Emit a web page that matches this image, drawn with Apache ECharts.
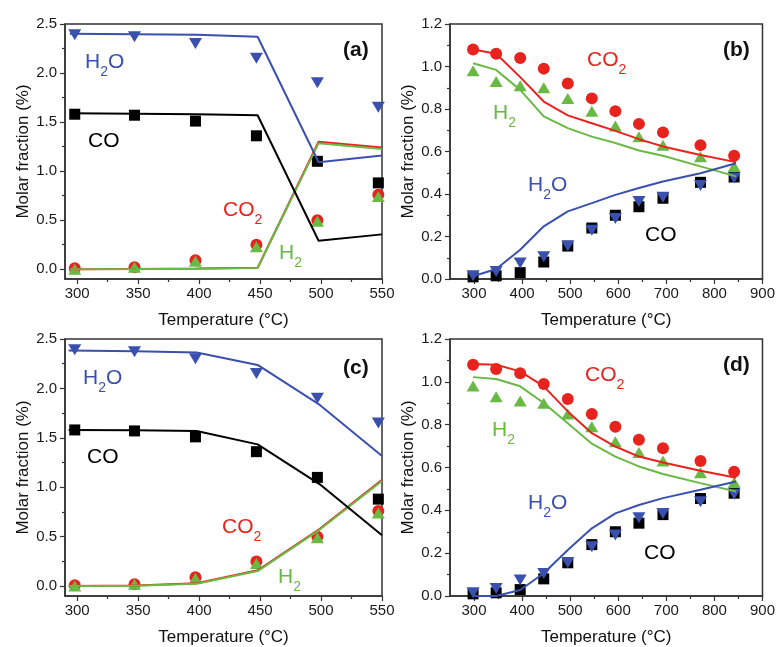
<!DOCTYPE html>
<html><head><meta charset="utf-8">
<script src="https://cdn.jsdelivr.net/npm/echarts@6/dist/echarts.min.js"></script>
<style>html,body{margin:0;padding:0;background:#fff}#c{width:778px;height:647px}</style>
</head><body><div id="c"></div>
<script>
// ---------- DATA ----------
// panels (a) and (c): experimental points
const xExpAC = [298, 347, 397, 447, 497, 547];
const expAC_H2O = [2.39, 2.37, 2.30, 2.15, 1.90, 1.65];
const expAC_CO  = [1.58, 1.57, 1.51, 1.36, 1.10, 0.88];
const expAC_CO2 = [0.01, 0.02, 0.09, 0.25, 0.50, 0.76];
const expAC_H2  = [0.00, 0.02, 0.08, 0.23, 0.49, 0.74];
// panel (a) model lines
const xModA = [294, 348, 398, 448, 498, 550];
const modA_H2O = [2.40, 2.395, 2.39, 2.37, 1.09, 1.16];
const modA_CO  = [1.59, 1.585, 1.58, 1.57, 0.29, 0.355];
const modA_CO2 = [0.00, 0.003, 0.007, 0.015, 1.30, 1.24];
const modA_H2  = [0.00, 0.002, 0.005, 0.012, 1.285, 1.225];
// panel (c) model lines
const xModC = [293, 348, 398, 448, 499, 550];
const modC_H2O = [2.383, 2.375, 2.363, 2.238, 1.833, 1.316];
const modC_CO  = [1.58, 1.577, 1.569, 1.434, 1.03, 0.514];
const modC_CO2 = [0.00, 0.006, 0.03, 0.16, 0.58, 1.075];
const modC_H2  = [0.00, 0.004, 0.024, 0.152, 0.572, 1.065];
// panels (b) and (d): experimental points
const xExpBD = [298, 346, 396, 445, 495, 545, 594, 643, 693, 771, 841];
const expBD_CO2 = [1.08, 1.06, 1.04, 0.99, 0.92, 0.85, 0.79, 0.73, 0.69, 0.63, 0.58];
const expBD_H2  = [0.98, 0.93, 0.91, 0.90, 0.85, 0.79, 0.72, 0.67, 0.63, 0.575, 0.53];
const expBD_H2O = [0.015, 0.035, 0.075, 0.105, 0.155, 0.23, 0.285, 0.365, 0.385, 0.44, 0.475];
const expBD_CO  = [0.01, 0.015, 0.03, 0.08, 0.155, 0.24, 0.30, 0.34, 0.38, 0.455, 0.48];
// panel (b) model lines
const xModBD = [298, 346, 396, 445, 495, 545, 594, 643, 693, 771, 845];
const modB_CO2 = [1.08, 1.06, 0.95, 0.835, 0.77, 0.733, 0.697, 0.658, 0.624, 0.584, 0.55];
const modB_H2  = [1.015, 0.984, 0.89, 0.765, 0.71, 0.67, 0.64, 0.605, 0.58, 0.53, 0.483];
const modB_H2O = [0.013, 0.047, 0.138, 0.248, 0.318, 0.357, 0.396, 0.428, 0.459, 0.498, 0.545];
// panel (d) model lines
const modD_CO2 = [1.083, 1.08, 1.049, 0.979, 0.862, 0.76, 0.698, 0.651, 0.623, 0.585, 0.552];
const modD_H2  = [1.022, 1.013, 0.979, 0.901, 0.807, 0.711, 0.651, 0.605, 0.57, 0.527, 0.488];
const modD_H2O = [0.0, 0.0, 0.028, 0.106, 0.215, 0.316, 0.386, 0.425, 0.457, 0.496, 0.535];
// ticks
const xTicksAC = [300, 350, 400, 450, 500, 550];
const xMinorAC = [325, 375, 425, 475, 525];
const yTicksAC = [0, 0.5, 1.0, 1.5, 2.0, 2.5];
const yMinorAC = [0.25, 0.75, 1.25, 1.75, 2.25];
const xTicksBD = [300, 400, 500, 600, 700, 800, 900];
const xMinorBD = [350, 450, 550, 650, 750, 850];
const yTicksBD = [0, 0.2, 0.4, 0.6, 0.8, 1.0, 1.2];
const yMinorBD = [0.1, 0.3, 0.5, 0.7, 0.9, 1.1];

// ---------- STYLE ----------
const F = '"Liberation Sans", Arial, sans-serif';
const BLUE = '#3a50ae', RED = '#e8231e', GREEN = '#69b944', BLACK = '#000';
const AX = '#333';

const zip = (xs, ys) => xs.map((x, i) => [x, ys[i]]);

const grids = [
  {left: 65, top: 24, width: 317, height: 255},
  {left: 450, top: 24, width: 316, height: 255},
  {left: 65, top: 339, width: 317, height: 257},
  {left: 450, top: 339, width: 316, height: 257}
].map(g => Object.assign({show: true, borderColor: AX, borderWidth: 1.5, backgroundColor: 'transparent'}, g));

function xAxes(gi, min, max, major, minor) {
  return [{
    gridIndex: gi, type: 'value', min, max, position: 'bottom',
    axisLine: {show: true, onZero: false, lineStyle: {color: AX, width: 1.5}},
    axisTick: {show: true, length: 5, customValues: major, lineStyle: {color: AX, width: 1.2}},
    axisLabel: {customValues: major, fontSize: 15, margin: 7, color: '#1a1a1a', fontFamily: F},
    splitLine: {show: false},
    name: 'Temperature (°C)', nameLocation: 'middle', nameGap: 33,
    nameTextStyle: {fontSize: 17, color: '#111', fontFamily: F}
  }, {
    gridIndex: gi, type: 'value', min, max, position: 'bottom',
    axisLine: {show: false, onZero: false},
    axisTick: {show: true, length: 3, customValues: minor, lineStyle: {color: AX, width: 1.2}},
    axisLabel: {show: false}, splitLine: {show: false}
  }];
}
function yAxes(gi, min, max, major, minor) {
  return [{
    gridIndex: gi, type: 'value', min, max, position: 'left',
    axisLine: {show: true, onZero: false, lineStyle: {color: AX, width: 1.5}},
    axisTick: {show: true, length: 5, customValues: major, lineStyle: {color: AX, width: 1.2}},
    axisLabel: {customValues: major, fontSize: 15, margin: 8, color: '#1a1a1a', fontFamily: F,
      formatter: v => Number(v).toFixed(1)},
    splitLine: {show: false},
    name: 'Molar fraction (%)', nameLocation: 'middle', nameGap: 33,
    nameTextStyle: {fontSize: 17, color: '#111', fontFamily: F}
  }, {
    gridIndex: gi, type: 'value', min, max, position: 'left',
    axisLine: {show: false, onZero: false},
    axisTick: {show: true, length: 3, customValues: minor, lineStyle: {color: AX, width: 1.2}},
    axisLabel: {show: false}, splitLine: {show: false}
  }];
}

const xAxis = [].concat(
  xAxes(0, 290, 550, xTicksAC, xMinorAC),
  xAxes(1, 250, 900, xTicksBD, xMinorBD),
  xAxes(2, 290, 550, xTicksAC, xMinorAC),
  xAxes(3, 250, 900, xTicksBD, xMinorBD)
);
const yAxis = [].concat(
  yAxes(0, -0.1, 2.5, yTicksAC, yMinorAC),
  yAxes(1, 0, 1.2, yTicksBD, yMinorBD),
  yAxes(2, -0.1, 2.5, yTicksAC, yMinorAC),
  yAxes(3, 0, 1.2, yTicksBD, yMinorBD)
);

function sc(gi, xs, ys, symbol, size, color, rot) {
  return {type: 'scatter', xAxisIndex: 2 * gi, yAxisIndex: 2 * gi, data: zip(xs, ys),
    symbol, symbolSize: size, symbolRotate: rot || 0, itemStyle: {color, opacity: 1},
    silent: true, z: 2};
}
function ln(gi, xs, ys, color) {
  return {type: 'line', xAxisIndex: 2 * gi, yAxisIndex: 2 * gi, data: zip(xs, ys),
    showSymbol: false, symbol: 'none', lineStyle: {color, width: 2}, silent: true, z: 3};
}
function expSet(gi, xs, co, h2o, co2, h2) {
  return [
    sc(gi, xs, co, 'rect', 11, BLACK),
    sc(gi, xs, h2o, 'triangle', [13, 11], BLUE, 180),
    sc(gi, xs, co2, 'circle', 12, RED),
    sc(gi, xs, h2, 'triangle', [13, 11], GREEN)
  ];
}

const series = [].concat(
  expSet(0, xExpAC, expAC_CO, expAC_H2O, expAC_CO2, expAC_H2),
  [ln(0, xModA, modA_CO2, RED), ln(0, xModA, modA_H2, GREEN), ln(0, xModA, modA_H2O, BLUE), ln(0, xModA, modA_CO, BLACK)],
  expSet(1, xExpBD, expBD_CO, expBD_H2O, expBD_CO2, expBD_H2),
  [ln(1, xModBD, modB_CO2, RED), ln(1, xModBD, modB_H2, GREEN), ln(1, xModBD, modB_H2O, BLUE)],
  expSet(2, xExpAC, expAC_CO, expAC_H2O, expAC_CO2, expAC_H2),
  [ln(2, xModC, modC_CO2, RED), ln(2, xModC, modC_H2, GREEN), ln(2, xModC, modC_H2O, BLUE), ln(2, xModC, modC_CO, BLACK)],
  expSet(3, xExpBD, expBD_CO, expBD_H2O, expBD_CO2, expBD_H2),
  [ln(3, xModBD, modD_CO2, RED), ln(3, xModBD, modD_H2, GREEN), ln(3, xModBD, modD_H2O, BLUE)]
);

// ---------- ANNOTATIONS ----------
function lab(x, y, txt, color) {
  const s = txt.replace(/_(\d)/g, '}{s|$1}{n|');
  const text = ('{n|' + s + '}').replace(/\{n\|\}/g, '');
  return {type: 'text', x, y, z: 100, silent: true, style: {
    text, align: 'left', verticalAlign: 'middle', fill: color,
    rich: {
      n: {fontSize: 21, fontFamily: F, fill: color, lineHeight: 34, verticalAlign: 'middle'},
      s: {fontSize: 14, fontFamily: F, fill: color, lineHeight: 34, verticalAlign: 'bottom'}
    }
  }};
}
function panel(x, y, t) {
  return {type: 'text', x, y, z: 100, silent: true, style: {
    text: t, align: 'left', verticalAlign: 'middle', fill: '#111',
    font: 'bold 21px ' + F
  }};
}
const graphic = [
  lab(85, 62, 'H_2O', BLUE), lab(88, 141, 'CO', BLACK), lab(223, 210, 'CO_2', RED), lab(279, 253, 'H_2', GREEN), panel(343, 50, '(a)'),
  lab(587, 60, 'CO_2', RED), lab(493, 113, 'H_2', GREEN), lab(528, 185, 'H_2O', BLUE), lab(645, 235, 'CO', BLACK), panel(723, 50, '(b)'),
  lab(83, 378, 'H_2O', BLUE), lab(87, 457, 'CO', BLACK), lab(222, 527, 'CO_2', RED), lab(278, 577, 'H_2', GREEN), panel(343, 368, '(c)'),
  lab(585, 375, 'CO_2', RED), lab(492, 430, 'H_2', GREEN), lab(528, 503, 'H_2O', BLUE), lab(644, 553, 'CO', BLACK), panel(723, 365, '(d)')
];

const chart = echarts.init(document.getElementById('c'), null, {renderer: 'canvas'});
chart.setOption({animation: false, backgroundColor: '#fff', grid: grids, xAxis, yAxis, series, graphic});
</script></body></html>
